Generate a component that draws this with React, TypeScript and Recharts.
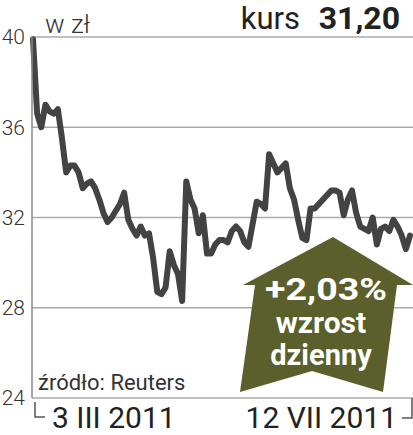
import React from "react";
import { LineChart, Line, XAxis, YAxis, CartesianGrid } from "recharts";

// daily close, 3 III 2011 – 12 VII 2011 (zł)
const prices = [
  39.9, 36.6, 36.0, 37.0, 36.7, 36.6, 36.8, 35.5, 34.0, 34.3,
  34.3, 34.0, 33.3, 33.5, 33.6, 33.3, 32.8, 32.2, 31.8, 32.0,
  32.3, 32.6, 33.1, 31.9, 31.5, 31.2, 31.6, 31.2, 31.3, 30.2,
  28.7, 28.6, 28.9, 30.5, 29.9, 29.5, 28.3, 33.6, 32.8, 32.4,
  31.3, 32.1, 30.4, 30.4, 30.8, 31.0, 31.0, 30.9, 31.4, 31.6,
  31.4, 30.9, 30.7, 31.7, 32.7, 32.6, 32.4, 34.8, 34.4, 34.0,
  34.2, 34.4, 33.3, 32.8, 31.9, 31.1, 31.0, 32.4, 32.4, 32.6,
  32.8, 33.0, 33.2, 33.2, 33.1, 32.1, 32.8, 33.2, 32.2, 31.6,
  31.5, 31.4, 32.0, 30.8, 31.5, 31.6, 31.4, 31.9, 31.6, 31.2,
  30.6, 31.2,
];
const yTicks = [24, 28, 32, 36, 40];
const dateLabels = ["3 III 2011", "12 VII 2011"];

const unit = "w zł";
const priceLabel = "kurs";
const lastPrice = "31,20";
const changeLabel = "+2,03%";
const changeWords = ["wzrost", "dzienny"];
const source = "źródło: Reuters";

const data = prices.map((price, day) => ({ day, price }));
const lastDay = prices.length - 1;

const FONT = "Roboto, 'Open Sans', sans-serif";

function DateTick(props: any) {
  const { x, y, index } = props;
  const first = index === 0;
  return (
    <text
      x={first ? x + 19 : x - 13}
      y={y + 30}
      textAnchor={first ? "start" : "end"}
      fontSize={30}
      fill="#222"
      fontFamily={FONT}
    >
      {first ? dateLabels[0] : dateLabels[1]}
    </text>
  );
}

export default function App() {
  return (
    <div style={{ position: "absolute", left: 0, top: 0, width: 413, height: 435, background: "#fff" }}>
      <LineChart
        width={413}
        height={435}
        data={data}
        margin={{ top: 37, right: 0, left: 0, bottom: 0 }}
      >
        <CartesianGrid vertical={false} stroke="#aaa" strokeWidth={1.5} />
        <XAxis
          dataKey="day"
          type="number"
          domain={[0, lastDay]}
          ticks={[0, lastDay]}
          padding={{ left: 1, right: 3 }}
          axisLine={false}
          tickLine={false}
          tickSize={0}
          tickMargin={0}
          height={37}
          tick={<DateTick />}
          interval={0}
        />
        <YAxis
          domain={[24, 40]}
          ticks={yTicks}
          width={32}
          axisLine={{ stroke: "#888", strokeWidth: 1.5 }}
          tickLine={false}
          tickSize={0}
          tickMargin={7}
          tick={{ fill: "#333", fontSize: 21, fontFamily: FONT, fontWeight: 300 }}
        />
        <Line
          dataKey="price"
          type="linear"
          stroke="#434343"
          strokeWidth={6}
          strokeLinejoin="round"
          strokeLinecap="round"
          dot={false}
          isAnimationActive={false}
        />
      </LineChart>
      <svg
        width={413}
        height={435}
        style={{ position: "absolute", left: 0, top: 0, pointerEvents: "none" }}
        fontFamily={FONT}
      >
        <text x={45} y={33} fontSize={26} fill="#333" fontWeight={300}>{unit}</text>
        <text x={300} y={29} fontSize={31} fill="#222" textAnchor="end">{priceLabel}</text>
        <text x={400} y={29} fontSize={32} fill="#222" fontWeight={700} textAnchor="end">{lastPrice}</text>
        <text x={38} y={390} fontSize={22} fill="#333">{source}</text>
        <path d="M35 402 V417 H45" fill="none" stroke="#555" strokeWidth={1.5} />
        <path d="M402 418 H412 V398" fill="none" stroke="#555" strokeWidth={1.5} />
        <polygon
          points="333,237 413,285 397,285 383,392 312,371 240,392 255,285 243,285"
          fill="#5a5f2b"
        />
        <text x={326} y={300} fontSize={32} fontWeight={700} fill="#fff" textAnchor="middle" textLength={122} lengthAdjust="spacingAndGlyphs">
          {changeLabel}
        </text>
        <text x={321} y={333} fontSize={30} fontWeight={700} fill="#fff" textAnchor="middle">{changeWords[0]}</text>
        <text x={321} y={365} fontSize={29} fontWeight={700} fill="#fff" textAnchor="middle">{changeWords[1]}</text>
      </svg>
    </div>
  );
}
